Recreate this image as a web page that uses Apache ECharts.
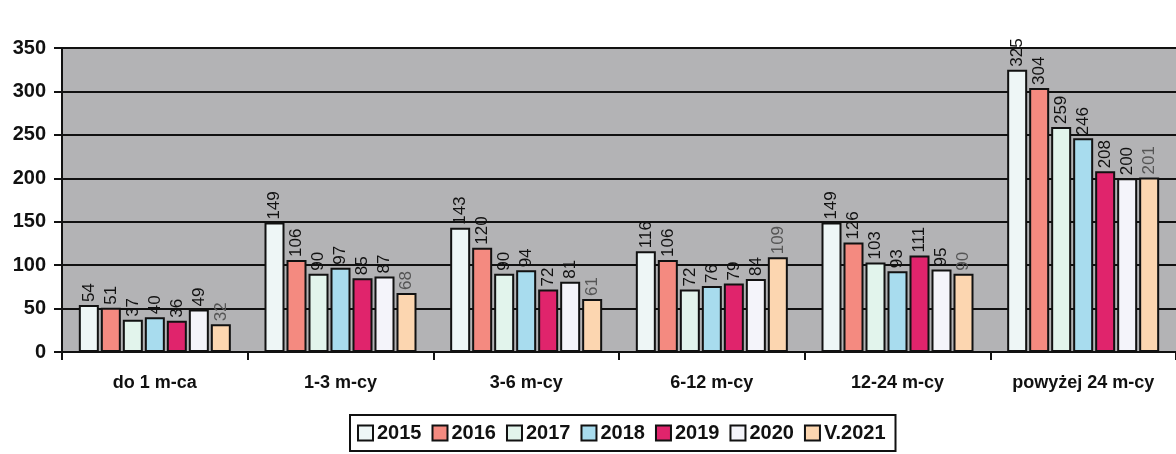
<!DOCTYPE html>
<html lang="pl">
<head>
    <meta charset="UTF-8">
    <title>Bezrobotni wg czasu pozostawania bez pracy</title>
    <script src="https://cdn.jsdelivr.net/npm/echarts@6/dist/echarts.min.js"></script>
    <style>
        html, body { margin: 0; padding: 0; background: #fff; }
        #main { width: 1176px; height: 454px; }
    </style>
</head>
<body>
<div id="main"></div>
<script>
    // dane z wykresu
    var kategorie = ['do 1 m-ca', '1-3 m-cy', '3-6 m-cy', '6-12 m-cy', '12-24 m-cy', 'powyżej 24 m-cy'];
    var lata = ['2015', '2016', '2017', '2018', '2019', '2020', 'V.2021'];
    var d2015 = [54, 149, 143, 116, 149, 325];
    var d2016 = [51, 106, 120, 106, 126, 304];
    var d2017 = [37, 90, 90, 72, 103, 259];
    var d2018 = [40, 97, 94, 76, 93, 246];
    var d2019 = [36, 85, 72, 79, 111, 208];
    var d2020 = [49, 87, 81, 84, 95, 200];
    var d2021 = [32, 68, 61, 109, 90, 201];
    var yTicks = [0, 50, 100, 150, 200, 250, 300, 350];

    var kolory = ['#eef6f6', '#f48a80', '#e2f4ec', '#a8dcee', '#e0246c', '#f4f4fa', '#fcd6b0'];
    var dane = [d2015, d2016, d2017, d2018, d2019, d2020, d2021];

    var myChart = echarts.init(document.getElementById('main'));

    var series = [];
    for (var i = 0; i < lata.length; i++) {
        series.push({
            name: lata[i],
            type: 'bar',
            data: dane[i],
            barWidth: 20,
            barGap: '10%',
            itemStyle: {
                color: kolory[i],
                borderColor: '#111',
                borderWidth: 2
            },
            label: {
                show: true,
                position: 'top',
                rotate: 90,
                align: 'left',
                verticalAlign: 'middle',
                distance: 3,
                fontFamily: 'Liberation Sans',
                fontSize: 17,
                color: i == 6 ? '#555' : '#111'
            }
        });
    }

    var option = {
        animation: false,
        textStyle: { fontFamily: 'Liberation Sans' },
        grid: {
            left: 62,
            top: 48,
            width: 1125,
            height: 304,
            show: true,
            backgroundColor: '#b3b3b5',
            borderWidth: 0
        },
        legend: {
            data: lata,
            icon: 'rect',
            left: 350,
            top: 415,
            itemWidth: 15,
            itemHeight: 15,
            itemGap: 10,
            padding: [8, 10, 8, 7],
            borderColor: '#111',
            borderWidth: 2,
            textStyle: {
                fontFamily: 'Liberation Sans',
                fontWeight: 'bold',
                fontSize: 20,
                color: '#111',
                padding: [0, 0, 0, -1]
            }
        },
        xAxis: {
            type: 'category',
            data: kategorie,
            axisLine: { lineStyle: { color: '#111', width: 2 } },
            axisTick: { show: true, length: 8, lineStyle: { color: '#111', width: 2 } },
            axisLabel: {
                margin: 22,
                fontFamily: 'Liberation Sans',
                fontWeight: 'bold',
                fontSize: 18,
                color: '#111'
            }
        },
        yAxis: {
            type: 'value',
            min: yTicks[0],
            max: yTicks[yTicks.length - 1],
            interval: 50,
            axisLine: { show: true, lineStyle: { color: '#111', width: 2 } },
            axisTick: { show: true, length: 8, lineStyle: { color: '#111', width: 2 } },
            splitLine: { lineStyle: { color: '#111', width: 2 } },
            axisLabel: {
                margin: 16,
                fontFamily: 'Liberation Sans',
                fontWeight: 'bold',
                fontSize: 20,
                color: '#111'
            }
        },
        series: series
    };

    myChart.setOption(option);
</script>
</body>
</html>
